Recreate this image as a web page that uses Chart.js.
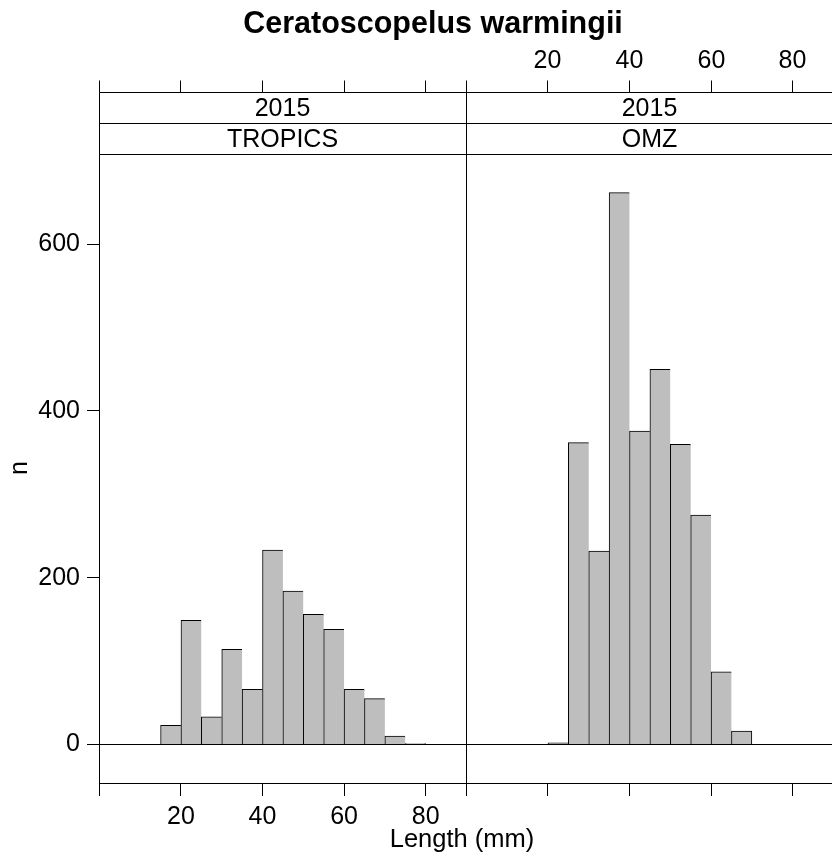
<!DOCTYPE html>
<html><head><meta charset="utf-8">
<script src="https://cdn.jsdelivr.net/npm/chart.js@4/dist/chart.umd.min.js"></script>
<style>
html,body{margin:0;padding:0;background:#fff;}
#wrap{position:relative;width:832px;height:858px;overflow:hidden;background:#fff;}
canvas{position:absolute;top:0;}
</style></head><body>
<div id="wrap">
<canvas id="cA" width="832" height="858" style="left:0;width:832px;height:858px"></canvas>
<canvas id="cB" width="368" height="858" style="left:466px;width:368px;height:858px"></canvas>
</div>
<script>
// ---- data ----
const chartTitle = 'Ceratoscopelus warmingii';
const xTitle = 'Length (mm)';
const yTitle = 'n';
const stripYear = ['2015', '2015'];
const stripRegion = ['TROPICS', 'OMZ'];
const binWidth = 5;
const tropicsBins = [15, 20, 25, 30, 35, 40, 45, 50, 55, 60, 65, 70, 75];
const tropicsCounts = [23, 149, 33, 114, 66, 233, 184, 156, 138, 66, 55, 10, 1];
const omzBins = [20, 25, 30, 35, 40, 45, 50, 55, 60, 65];
const omzCounts = [2, 362, 232, 662, 376, 450, 360, 275, 87, 16];
const xTicks = [0, 20, 40, 60, 80];
const xTickLabels = ['', '20', '40', '60', '80'];
const yTicks = [0, 200, 400, 600];
const xRange = [-0.1, 89.9];
const yRange = [-46.3, 708.3];

const FONT = "'Liberation Sans', Arial, sans-serif";
Chart.defaults.font.family = FONT;
Chart.defaults.color = '#000';

const px = v => Math.floor(v) + 0.5;

function hLine(ctx, x1, x2, y) { ctx.beginPath(); ctx.moveTo(x1, y); ctx.lineTo(x2, y); ctx.stroke(); }
function vLine(ctx, x, y1, y2) { ctx.beginPath(); ctx.moveTo(x, y1); ctx.lineTo(x, y2); ctx.stroke(); }

const framePlugin = {
  id: 'frame',
  afterDatasetsDraw(chart, args, o) {
    const {ctx, chartArea: a, scales: {y}} = chart;
    ctx.save();
    ctx.strokeStyle = '#000'; ctx.lineWidth = 1;
    hLine(ctx, a.left, a.right, px(y.getPixelForValue(0)));
    ctx.restore();
  },
  afterDraw(chart, args, o) {
    const {ctx, chartArea: a, scales: {x}} = chart;
    ctx.save();
    ctx.strokeStyle = '#000'; ctx.lineWidth = 1; ctx.fillStyle = '#000';
    const L = px(a.left), R = px(a.right), T = px(a.top), B = px(a.bottom);
    // panel box
    ctx.strokeRect(L, T, R - L, B - T);
    // strips
    const s1 = px(a.top - 62), s2 = px(a.top - 31);
    hLine(ctx, L, R, s1); hLine(ctx, L, R, s2);
    vLine(ctx, L, s1, T); vLine(ctx, R, s1, T);
    ctx.font = '25px ' + FONT;
    ctx.textAlign = 'center'; ctx.textBaseline = 'middle';
    const cx = (a.left + a.right) / 2;
    ctx.fillText(o.year, cx, (s1 + s2) / 2 + 1);
    ctx.fillText(o.region, cx, (s2 + T) / 2 + 1);
    // top ticks
    xTicks.forEach((v, i) => {
      const xx = px(x.getPixelForValue(v));
      vLine(ctx, xx, s1 - 12, s1);
      if (o.topLabels && xTickLabels[i]) ctx.fillText(xTickLabels[i], xx, s1 - 31);
    });
    if (o.global) {
      ctx.textBaseline = 'alphabetic';
      ctx.font = 'bold 30.5px ' + FONT;
      ctx.fillText(chartTitle, 433, 33);
      ctx.font = '25.5px ' + FONT;
      ctx.fillText(xTitle, 462, 847);
      ctx.font = '25px ' + FONT;
      ctx.save();
      ctx.translate(27, 468);
      ctx.rotate(-Math.PI / 2);
      ctx.fillText(yTitle, 0, 0);
      ctx.restore();
    }
    ctx.restore();
  }
};

function makeData(bins, counts) {
  return bins.map((b, i) => ({x: b + binWidth / 2, y: counts[i]}));
}

function makeChart(id, bins, counts, isLeft, idx) {
  const n = counts.length;
  return new Chart(document.getElementById(id), {
    type: 'bar',
    data: {datasets: [{
      data: makeData(bins, counts),
      backgroundColor: '#bebebe',
      borderColor: '#000',
      borderSkipped: false,
      borderWidth: c => ({top: 1, left: 1, bottom: 0, right: c.dataIndex === n - 1 ? 1 : 0}),
      barPercentage: 1, categoryPercentage: 1
    }]},
    options: {
      responsive: false, animation: false, devicePixelRatio: 1,
      layout: {autoPadding: false, padding: {top: 154, bottom: 0, left: 0, right: isLeft ? 366 : 1}},
      plugins: {legend: {display: false}, tooltip: {enabled: false}, title: {display: false},
        frame: {year: stripYear[idx], region: stripRegion[idx], topLabels: !isLeft, global: isLeft}},
      scales: {
        x: {
          type: 'linear', position: 'bottom', min: xRange[0], max: xRange[1], offset: false,
          afterBuildTicks: s => { s.ticks = xTicks.map(v => ({value: v})); },
          afterFit: s => { s.height = 75; s.paddingLeft = 0; s.paddingRight = 0; },
          grid: {drawOnChartArea: false, offset: false, color: '#000', tickColor: '#000', tickLength: 13},
          border: {display: false},
          ticks: {display: isLeft, autoSkip: false, maxRotation: 0, minRotation: 0, padding: 6, font: {size: 25}, color: '#000',
            callback: (v, i) => xTickLabels[i]}
        },
        y: {
          type: 'linear', position: 'left', min: yRange[0], max: yRange[1], display: isLeft,
          afterBuildTicks: s => { s.ticks = yTicks.map(v => ({value: v})); },
          afterFit: s => { s.width = isLeft ? 99 : 0; s.paddingTop = 0; s.paddingBottom = 0; },
          grid: {drawOnChartArea: false, color: '#000', tickColor: '#000', tickLength: 12},
          border: {display: false},
          ticks: {padding: 7, font: {size: 25}, color: '#000'}
        }
      }
    },
    plugins: [framePlugin]
  });
}

makeChart('cA', tropicsBins, tropicsCounts, true, 0);
makeChart('cB', omzBins, omzCounts, false, 1);
</script>
</body></html>
